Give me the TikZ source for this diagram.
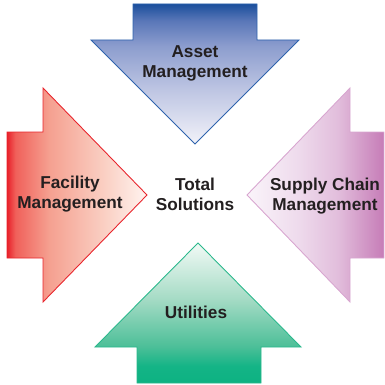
\documentclass[tikz,border=0pt]{standalone}
\usepackage{fontspec}
\setmainfont{Liberation Sans}
\definecolor{textgray}{HTML}{231F20}
\definecolor{assetline}{HTML}{2E63AD}
\definecolor{facline}{HTML}{E8242C}
\definecolor{supplyline}{HTML}{D8A6D0}
\definecolor{utilline}{HTML}{2AB88C}
% colour stops of the four gradients
\definecolor{assetA}{HTML}{1B4F9C}
\definecolor{assetB}{HTML}{5A77B8}
\definecolor{assetC}{HTML}{8C9DCE}
\definecolor{assetD}{HTML}{BCC4E2}
\definecolor{assetE}{HTML}{F2F2F9}
\definecolor{facA}{HTML}{E8202A}
\definecolor{facB}{HTML}{F0605A}
\definecolor{facC}{HTML}{F5A090}
\definecolor{facD}{HTML}{FAD0C4}
\definecolor{facE}{HTML}{FFF4F0}
\definecolor{supplyA}{HTML}{FAF4FA}
\definecolor{supplyB}{HTML}{EEDAEC}
\definecolor{supplyC}{HTML}{E2BEDC}
\definecolor{supplyE}{HTML}{C67CB7}
\definecolor{utilA}{HTML}{0DB282}
\definecolor{utilB}{HTML}{14B486}
\definecolor{utilC}{HTML}{4CBF98}
\definecolor{utilD}{HTML}{A5DBC5}
\definecolor{utilE}{HTML}{F2FAF6}
\pgfdeclareverticalshading{assetshade}{100bp}{color(0bp)=(assetE); color(25bp)=(assetE);
	color(45bp)=(assetD); color(60bp)=(assetC); color(69bp)=(assetB); color(75bp)=(assetA); color(100bp)=(assetA)}
\pgfdeclarehorizontalshading{facshade}{100bp}{color(0bp)=(facA); color(25bp)=(facA);
	color(28bp)=(facB); color(40bp)=(facC); color(60bp)=(facD); color(75bp)=(facE); color(100bp)=(facE)}
\pgfdeclarehorizontalshading{supplyshade}{100bp}{color(0bp)=(supplyA); color(25bp)=(supplyA);
	color(44bp)=(supplyB); color(58bp)=(supplyC); color(75bp)=(supplyE); color(100bp)=(supplyE)}
\pgfdeclareverticalshading{utilshade}{100bp}{color(0bp)=(utilA); color(25bp)=(utilA);
	color(31bp)=(utilB); color(38bp)=(utilC); color(55bp)=(utilD); color(75bp)=(utilE); color(100bp)=(utilE)}
\tikzset{
	boxtext/.style={font=\bfseries\fontsize{9.8}{11.4}\selectfont, text=textgray, align=center},
	bigarrow/.style={line width=0.5pt, line join=miter}
}
\begin{document}
\begin{tikzpicture}[x=0.02cm, y=-0.02cm]
		\useasboundingbox (0,0) rectangle (385,385);

		% arrows pointing to the centre
		\shade[bigarrow, draw=assetline, shading=assetshade]
			(133,4) -- (257,4) -- (257,40) -- (299,40) -- (195,144) -- (91,40) -- (133,40) -- cycle;
		\shade[bigarrow, draw=facline, shading=facshade]
			(7,132) -- (43,132) -- (43,88) -- (147,195) -- (43,302) -- (43,258) -- (7,258) -- cycle;
		\shade[bigarrow, draw=supplyline, shading=supplyshade]
			(384,132) -- (350,132) -- (350,88) -- (247,195) -- (350,302) -- (350,258) -- (384,258) -- cycle;
		\shade[bigarrow, draw=utilline, shading=utilshade]
			(137,383) -- (261,383) -- (261,347) -- (301,347) -- (198,243) -- (95,347) -- (137,347) -- cycle;

		% labels
		\node[boxtext] (asset) at (195,63) {Asset\\Management};
		\node[boxtext] (facility) at (70,194) {Facility\\Management};
		\node[boxtext] (supply) at (325,196) {Supply Chain\\Management};
		\node[boxtext] (utilities) at (196,312) {Utilities};
		\node[boxtext] (total) at (195,194) {Total\\Solutions};
	\end{tikzpicture}
\end{document}
